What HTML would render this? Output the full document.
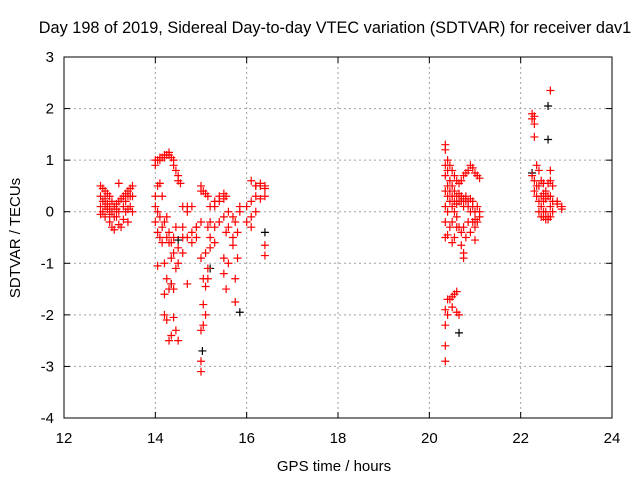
<!DOCTYPE html>
<html><head><meta charset="utf-8"><style>
body{margin:0;background:#fff}
svg{display:block;font-family:"Liberation Sans",sans-serif}
</style></head><body>
<svg id="chart" width="640" height="480">
<rect width="640" height="480" fill="#fff"/>
<g id="grid"></g>
<g id="axes"></g>
<g id="marks"></g>
<text x="335" y="33" font-size="16.3" text-anchor="middle">Day 198 of 2019, Sidereal Day-to-day VTEC variation (SDTVAR) for receiver dav1</text>
<text x="334" y="471" font-size="15" text-anchor="middle">GPS time / hours</text>
<text transform="translate(20,238) rotate(-90)" font-size="15" text-anchor="middle">SDTVAR / TECUs</text>
</svg>
<script>
const xTicks=[12,14,16,18,20,22,24];
const yTicks=[3,2,1,0,-1,-2,-3,-4];
const redGroups=[
[12.8,[0.5,0.3,0.1,-0.05]],[12.85,[0.45,0.2,0.0]],[12.9,[0.4,0.25,0.1,-0.1]],[12.95,[0.35,0.15,0.05]],
[13.0,[0.3,0.1,-0.05,-0.2]],[13.05,[0.2,0.0,-0.3]],[13.1,[0.1,-0.1,-0.35]],[13.15,[0.05,0.15,-0.1]],
[13.2,[0.55,0.2,0.0,-0.25]],[13.25,[0.25,-0.3]],[13.3,[0.3,0.1,-0.15]],[13.35,[0.35,0.2,0.0]],
[13.4,[0.4,0.3,0.05,-0.2]],[13.45,[0.45,0.3,0.1]],[13.5,[0.5,0.3,0.0]],
[14.0,[0.9,1.0,0.3,0.1,-0.2]],[14.05,[1.0,0.5,0.0,-0.4,-1.05]],[14.1,[1.0,1.05,0.55,-0.1,-0.5]],
[14.15,[1.05,0.3,-0.3,-0.6]],[14.2,[1.05,1.1,-0.2,-1.0,-1.6,-2.0]],[14.25,[1.1,-0.5,-0.1,-1.3,-2.1]],
[14.3,[1.15,1.1,-0.4,-0.6,-1.5,-2.5]],[14.35,[1.05,-0.6,-1.4,-2.4,-0.9]],[14.4,[1.0,0.9,-0.5,-0.8,-1.5,-2.05]],
[14.45,[0.8,-0.3,-1.1,-2.3]],[14.5,[0.7,0.6,-0.7,-2.5,-1.0]],[14.55,[0.55]],
[14.6,[0.1,-0.3,-0.5,-0.8]],[14.7,[0.1,0.0,-0.5,-1.4]],[14.8,[0.1,-0.4,-0.6]],[14.9,[-0.3,-0.5,-0.3]],
[15.0,[0.5,-0.2,0.4,-0.9,-2.3,-2.9,-3.1]],[15.05,[0.4,-1.8,-1.3,-2.2]],[15.1,[0.35,-0.8,-1.45,-2.0]],
[15.15,[0.3,-0.3,-1.1,-1.3]],[15.2,[0.1,-0.2,-0.7,-0.5]],[15.3,[0.2,0.1,-0.6,-0.3]],[15.4,[0.3,0.2,-0.2]],
[15.5,[0.35,0.25,-0.1,-0.9,-1.2]],[15.55,[0.3,-0.4,-1.5]],[15.6,[0.0,-0.3,-1.0]],[15.7,[-0.1,-0.5,-0.65]],
[15.75,[-0.2,-1.3,-1.75]],[15.8,[-0.9,-0.4]],[15.85,[0.0,0.1]],[16.0,[0.1,-0.2]],
[16.1,[0.6,0.2,-0.3,-0.1]],[16.2,[0.5,0.5,0.3,0.0]],[16.3,[0.5,0.55,0.25]],[16.4,[0.45,0.5,0.3,-0.65,-0.85]],
[20.35,[1.3,1.2,0.9,0.7,0.4,0.1,-0.2,-0.5,-2.9,-2.6,-2.2,-1.9]],[20.4,[1.0,0.8,0.5,0.3,0.0,-0.45,-1.7,-2.0]],
[20.45,[0.9,0.6,0.4,0.2,-0.3,-1.7]],[20.5,[0.8,0.5,0.3,0.1,-0.2,-0.6,-1.65,-1.85]],
[20.55,[0.7,0.4,0.2,0.0,-0.5,-1.6]],[20.6,[0.6,0.3,0.15,-0.1,-0.3,-1.55,-1.95]],
[20.65,[0.55,0.35,0.2,-0.3,-2.0]],[20.7,[0.6,0.3,0.2,-0.4,-0.65]],[20.75,[0.7,0.25,0.1,-0.3,-0.8,-0.9]],
[20.8,[0.75,0.3,0.2,-0.5]],[20.85,[0.8,0.2,0.1,-0.2]],[20.9,[0.9,0.25,0.0,-0.4]],[20.95,[0.85,0.2,0.1,-0.2]],
[21.0,[0.75,0.0,-0.15,-0.3,-0.55]],[21.05,[0.7,0.1,-0.2]],[21.1,[0.65,0.0,-0.1]],
[22.25,[1.9,1.8,0.7]],[22.3,[1.85,1.7,1.45,0.6,0.4]],[22.35,[0.9,0.5,0.3]],[22.4,[0.8,0.5,0.2,0.0]],
[22.45,[0.6,0.3,0.1,-0.1]],[22.5,[0.55,0.35,0.2,0.0,-0.1]],[22.55,[0.4,0.25,0.0,-0.15]],
[22.6,[0.55,0.3,-0.1,-0.15]],[22.65,[2.35,0.8,0.6,0.3,0.1,-0.1]],[22.7,[0.5,0.2,0.0]],
[22.8,[0.2,0.15]],[22.9,[0.1,0.05]]
];
const blackX=[14.35,15.03,15.85,22.6,22.6,20.65,16.4,14.5,22.25,15.2];
const blackY=[-1.4,-2.7,-1.95,2.05,1.4,-2.35,-0.4,-0.55,0.75,-1.1];

const L=64,R=612,T=57,B=418;
const xs=v=>L+(v-12)/12*(R-L);
const ys=v=>T+(3-v)/7*(B-T);
const NS='http://www.w3.org/2000/svg';
function mk(tag,attrs,parent){const e=document.createElementNS(NS,tag);for(const k in attrs)e.setAttribute(k,attrs[k]);parent.appendChild(e);return e;}
const grid=document.getElementById('grid'),axes=document.getElementById('axes'),marks=document.getElementById('marks');
xTicks.forEach(t=>{
  const x=xs(t);
  if(t>12&&t<24){const g=mk('line',{x1:x,x2:x,y1:T,y2:B,stroke:'#a0a0a0','stroke-dasharray':'2,3'},grid);
  
  }
  mk('line',{x1:x,x2:x,y1:B,y2:B-6,stroke:'#000'},axes);mk('line',{x1:x,x2:x,y1:T,y2:T+6,stroke:'#000'},axes);
  const tx=mk('text',{x:x,y:B+25,'font-size':15,'text-anchor':'middle'},axes);tx.textContent=t;
  
  
});
yTicks.forEach(t=>{
  const y=ys(t);
  if(t<3&&t>-4){const g=mk('line',{x1:L,x2:R,y1:y,y2:y,stroke:'#a0a0a0','stroke-dasharray':'2,3'},grid);
  
  }
  mk('line',{x1:L,x2:L+6,y1:y,y2:y,stroke:'#000'},axes);mk('line',{x1:R,x2:R-6,y1:y,y2:y,stroke:'#000'},axes);
  const tx=mk('text',{x:L-10,y:y+5,'font-size':15,'text-anchor':'end'},axes);tx.textContent=t;
  
  
});
const fr=mk('rect',{x:L,y:T,width:R-L,height:B-T,fill:'none',stroke:'#000'},axes);


function plus(x,y,c){
  const p=mk('path',{d:`M${x-4},${y}H${x+4}M${x},${y-4}V${y+4}`,stroke:c,'stroke-width':1.2,fill:'none'},marks);
  return p;
}
blackX.forEach((h,i)=>{const p=plus(xs(h),ys(blackY[i]),'#000');
  
  });
redGroups.forEach(g=>g[1].forEach(v=>{const p=plus(xs(g[0]),ys(v),'#ff0000');
  
  }));
</script>
</body></html>
